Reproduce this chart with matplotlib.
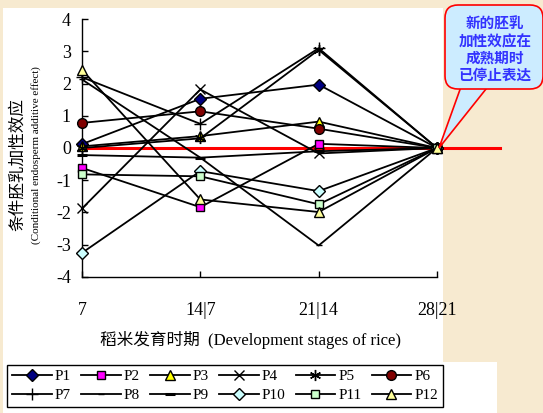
# -*- coding: utf-8 -*-
"""
    Effet additif conditionnel de l'endosperme (P1..P12)
"""

#========== IMPORT ==========#

import matplotlib
matplotlib.use("Agg")
import matplotlib.pyplot as plt
from matplotlib.patches import Rectangle, FancyBboxPatch, Polygon
from matplotlib.transforms import Affine2D

#========== DATA ==========#

stages = ["7", "14|7", "21|14", "28|21"]
names = ["P1", "P2", "P3", "P4", "P5", "P6",
         "P7", "P8", "P9", "P10", "P11", "P12"]

p1 = [0.12, 1.53, 1.97, 0]
p2 = [-0.62, -1.84, 0.13, 0]
p3 = [0.05, 0.37, 0.82, 0]
p4 = [-1.88, 1.82, -0.17, 0]
p5 = [0.00, 0.30, 3.05, 0]
p6 = [0.78, 1.14, 0.60, 0]
p7 = [2.20, 0.75, 3.10, 0]
p8 = [2.13, -0.30, -3.03, 0]
p9 = [-0.22, -0.30, -0.10, 0]
p10 = [-3.26, -0.72, -1.34, 0]
p11 = [-0.82, -0.88, -1.75, 0]
p12 = [2.43, -1.60, -1.99, 0]

y_ticks = [-4, -3, -2, -1, 0, 1, 2, 3, 4]
callout = "新的胚乳\n加性效应在\n成熟期时\n已停止表达"

#========== STYLE ==========#

W, H = 543, 413
FONT = ["Liberation Serif", "Noto Sans CJK SC"]
BG = "#F7EAD0"

# marker, face colour, size
styles = [
    ("D", "#000080", 6),
    ("s", "#FF00FF", 6),
    ("^", "#FFFF00", 7),
    ("x", "black", 7),
    ((6, 2, 0), "black", 8),
    ("o", "#800000", 7),
    ("+", "black", 8),
    ("_", "black", 4),
    ("_", "black", 7),
    ("D", "#CCFFFF", 6),
    ("s", "#CCFFCC", 6),
    ("^", "#FFFF99", 7),
]


def px(fig):
    """pixel coords, origin top-left"""
    return Affine2D().scale(1.0 / W, -1.0 / H).translate(0, 1) + fig.transFigure


#======== FUNCTIONS =========#

def main():
    plt.rcParams["font.family"] = FONT
    fig = plt.figure(figsize=(W / 100, H / 100), dpi=100, facecolor=BG)
    tr = px(fig)

    # white panels behind the chart
    fig.patches.append(Rectangle((3, 8), 440, 354, transform=tr,
                                 fc="white", ec="none", zorder=-10))
    fig.patches.append(Rectangle((3, 362), 494, 51, transform=tr,
                                 fc="white", ec="none", zorder=-10))

    ax = fig.add_axes([82 / W, 1 - 276.7 / H, 355 / W, 257.4 / H])
    ax.set_facecolor("none")

    series = [p1, p2, p3, p4, p5, p6, p7, p8, p9, p10, p11, p12]
    xs = range(len(stages))
    handles = []
    for i, (vals, (mk, fc, ms)) in enumerate(zip(series, styles)):
        mew = 1.0
        if mk == "_" and ms > 5:
            mew = 2.2
        line, = ax.plot(xs, vals, color="black", lw=1.3, marker=mk, ms=ms,
                        mfc=fc, mec="black", mew=mew, clip_on=False,
                        zorder=3 + i * 0.01, label=names[i])
        handles.append(line)

    # red zero line, runs past the axis
    ax.plot([0, 3.53], [0, 0], color="#FF0000", lw=2.2, clip_on=False, zorder=2.5)

    ax.set_xlim(0, 3)
    ax.set_ylim(-4, 4)
    ax.set_xticks(list(xs))
    ax.set_xticklabels(stages)
    ax.set_yticks(y_ticks)
    ax.set_yticklabels([str(v) for v in y_ticks])
    ax.tick_params(direction="in", length=4, width=1, labelsize=13)
    ax.tick_params(axis="x", pad=18)
    ax.tick_params(axis="y", pad=8)
    for side in ["top", "right"]:
        ax.spines[side].set_visible(False)
    for side in ["left", "bottom"]:
        ax.spines[side].set_linewidth(1.0)

    # axis titles
    fig.text(250 / W, 1 - 340 / H, "稻米发育时期  (Development stages of rice)",
             ha="center", va="center", fontsize=12)
    fig.text(18 / W, 1 - 165 / H, "条件胚乳加性效应", rotation=90,
             ha="center", va="center", fontsize=12)
    fig.text(36 / W, 1 - 155 / H, "(Conditional endosperm additive effect)",
             rotation=90, ha="center", va="center", fontsize=8)

    # legend, row by row (matplotlib fills by column)
    order = [0, 6, 1, 7, 2, 8, 3, 9, 4, 10, 5, 11]
    leg = fig.legend(handles=[handles[k] for k in order], ncol=6, loc="center",
                     bbox_to_anchor=(225 / W, 1 - 386 / H), frameon=True,
                     fancybox=False, edgecolor="black", framealpha=1,
                     fontsize=11, handlelength=2.6, handletextpad=0.2,
                     columnspacing=0.66, labelspacing=0.35, borderpad=0.3,
                     borderaxespad=0)
    leg.get_frame().set_linewidth(1.0)

    # speech bubble
    fill = "#CCECFF"
    fig.patches.append(Polygon([(462, 84), (490, 84), (439, 148)], closed=True,
                               transform=tr, fc=fill, ec="red", lw=1.2, zorder=5))
    fig.patches.append(FancyBboxPatch((451, 11), 86, 72,
                                      boxstyle="round,pad=6,rounding_size=13",
                                      transform=tr, fc=fill, ec="red", lw=1.2,
                                      zorder=5))
    fig.patches.append(Polygon([(463.5, 86), (488, 86), (460, 84), (470, 80)],
                               closed=True, transform=tr, fc=fill, ec="none",
                               zorder=6))
    fig.text(495, 50, callout, transform=tr, ha="center", va="center",
             fontsize=10.5, fontweight="bold", color="#3333FF",
             linespacing=1.3, zorder=7)

    fig.savefig("out.png", dpi=100, facecolor=BG)


#=========   EXEC   =========#
if __name__ == "__main__":
    main()
